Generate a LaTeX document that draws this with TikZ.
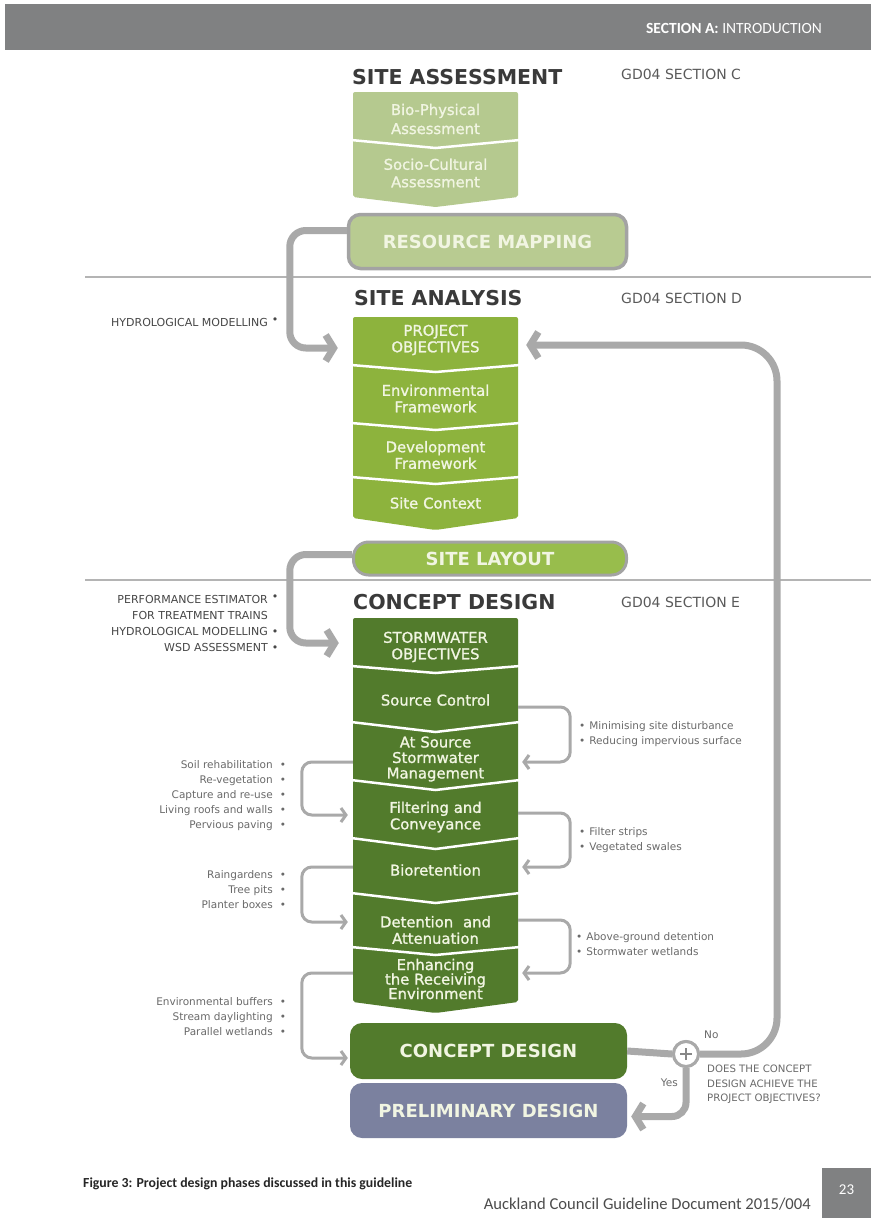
\documentclass[tikz,border=0pt]{standalone}
\usepackage{fontspec}
\setmainfont{DejaVu Sans}
\newfontfamily\colfont[FakeBold=1.2]{DejaVu Sans}
\newfontfamily\capfont{Carlito}
\usetikzlibrary{arrows.meta}
\definecolor{lgreen}{HTML}{B5C98F}
\definecolor{rmgreen}{HTML}{B8CB91}
\definecolor{mgreen}{HTML}{8DB33D}
\definecolor{slgreen}{HTML}{98BD4C}
\definecolor{dgreen}{HTML}{527B2C}
\definecolor{slate}{HTML}{7B819F}
\definecolor{conn}{HTML}{A9A9A9}
\definecolor{boxborder}{HTML}{A3A3A3}
\definecolor{headgray}{HTML}{3A3A3A}
\definecolor{gdgray}{HTML}{5A5A5A}
\definecolor{lblgray}{HTML}{6A6A6A}
\definecolor{toolgray}{HTML}{474747}
\definecolor{bargray}{HTML}{808182}
\definecolor{sepgray}{HTML}{B4B4B4}
\definecolor{boxtext}{HTML}{F1F5E2}
\newcommand\lbul{\rlap{\hspace{7pt}•}}
\newcommand\tbul{\rlap{\hspace{4pt}•}}
\newcommand\tbulr{\rlap{\hspace{4pt}\raisebox{3pt}{•}}}
\tikzset{
  coltext/.style={text width=160pt, inner xsep=2.5pt, inner ysep=0pt, align=center, text=boxtext, font=\colfont\fontsize{14.8}{16.5}\selectfont},
  heading/.style={anchor=west, text=headgray, inner sep=0pt, font=\bfseries\fontsize{20.5}{24}\selectfont},
  gdref/.style={anchor=west, text=gdgray, inner sep=0pt, font=\fontsize{14}{16}\selectfont},
  phasebox/.style={rounded corners=12pt, text=boxtext, inner sep=0pt, font=\bfseries\fontsize{18}{20}\selectfont},
  bigline/.style={draw=conn, line width=7pt, rounded corners=16pt},
  bigconn/.style={bigline, -{Straight Barb[length=8pt,width=26pt]}},
  smallconn/.style={draw=conn, line width=3pt, rounded corners=10pt, -{Straight Barb[length=5pt,width=14pt]}},
  leftlbl/.style={anchor=east, align=right, text=lblgray, inner sep=0pt, font=\fontsize{10.5}{15}\selectfont},
  rightlbl/.style={anchor=west, align=left, text=lblgray, inner sep=0pt, font=\fontsize{10.5}{15}\selectfont},
  toollbl/.style={anchor=east, align=right, text=toolgray, inner sep=0pt, font=\fontsize{11}{16}\selectfont},
  divider/.style={draw=white, line width=2.5pt},
}
\begin{document}
\begin{tikzpicture}[x=1pt,y=-1pt]
\useasboundingbox (0,0) rectangle (871,1218);
\fill[white] (0,0) rectangle (871,1218);
% header bar
\fill[bargray] (5,4) rectangle (871,50);
\node[anchor=east, text=white, inner sep=0pt, font=\capfont\fontsize{15.5}{17}\selectfont] (sect) at (822,28) {\textbf{SECTION A:} INTRODUCTION};
% separators
\draw[sepgray, line width=1.2pt] (85,277) -- (871,277);
\draw[sepgray, line width=1.2pt] (85,580) -- (871,580);
% headings
\node[heading] (hsa) at (352,77) {SITE ASSESSMENT};
\node[gdref] (gdc) at (621,74) {GD04 SECTION C};
\node[heading] (hsan) at (354,298) {SITE ANALYSIS};
\node[gdref] (gdd) at (621,298) {GD04 SECTION D};
\node[heading] (hcd) at (353,602) {CONCEPT DESIGN};
\node[gdref] (gde) at (621,602) {GD04 SECTION E};

% ---- column 1: site assessment
\fill[lgreen, rounded corners=2pt] (353,92) -- (518,92) -- (518,197) -- (435.5,207) -- (353,197) -- cycle;
\draw[divider] (351,140) -- (435.5,148) -- (520,140);
\node[coltext, font=\colfont\fontsize{14.8}{19}\selectfont] (bp) at (435.5,119) {Bio-Physical\\Assessment};
\node[coltext, font=\colfont\fontsize{14.8}{17.5}\selectfont] (sca) at (435.5,173) {Socio-Cultural\\Assessment};

% resource mapping
\node[phasebox, fill=rmgreen, draw=boxborder, line width=3.5pt, minimum width=278pt, minimum height=54pt] (rm) at (487.5,241.5) {RESOURCE MAPPING};

% ---- column 2: site analysis
\fill[mgreen, rounded corners=2pt] (353,317) -- (518,317) -- (518,518) -- (435.5,530) -- (353,518) -- cycle;
\draw[divider] (351,365) -- (435.5,372) -- (520,365);
\draw[divider] (351,423) -- (435.5,430) -- (520,423);
\draw[divider] (351,477) -- (435.5,484) -- (520,477);
\node[coltext] (po) at (435.5,340) {PROJECT\\OBJECTIVES};
\node[coltext] (ef) at (435.5,398.5) {Environmental\\Framework};
\node[coltext] (df) at (435.5,455) {Development\\Framework};
\node[coltext] (scx) at (435.5,503) {Site Context};

% site layout
\node[phasebox, rounded corners=15pt, fill=slgreen, draw=boxborder, line width=3pt, minimum width=273pt, minimum height=33pt] (sl) at (490,558.5) {SITE LAYOUT};

% ---- column 3: concept design
\fill[dgreen, rounded corners=2pt] (353,618) -- (518,618) -- (518,1002) -- (435.5,1013) -- (353,1002) -- cycle;
\draw[divider] (351,666) -- (435.5,673) -- (520,666);
\draw[divider] (351,722) -- (435.5,732) -- (520,722);
\draw[divider] (351,780) -- (435.5,790) -- (520,780);
\draw[divider] (351,838) -- (435.5,849) -- (520,838);
\draw[divider] (351,893) -- (435.5,903) -- (520,893);
\draw[divider] (351,947) -- (435.5,955) -- (520,947);
\node[coltext] (so) at (435.5,647) {STORMWATER\\OBJECTIVES};
\node[coltext] (sc) at (435.5,700) {Source Control};
\node[coltext, font=\colfont\fontsize{14.8}{15.5}\selectfont] (asm) at (435.5,759) {At Source\\Stormwater\\Management};
\node[coltext] (fc) at (435.5,817) {Filtering and\\Conveyance};
\node[coltext] (bio) at (435.5,870) {Bioretention};
\node[coltext] (da) at (435.5,930) {Detention\ \ and\\Attenuation};
\node[coltext, font=\colfont\fontsize{14.8}{14.5}\selectfont] (enh) at (435.5,979) {Enhancing\\the Receiving\\Environment};

% concept design and preliminary design boxes
\node[phasebox, fill=dgreen, minimum width=277pt, minimum height=56pt] (cdb) at (488.5,1051) {CONCEPT DESIGN};
\node[phasebox, fill=slate, minimum width=277pt, minimum height=55pt] (pd) at (488.5,1110.5) {PRELIMINARY DESIGN};

% decision point
\node[circle, draw=conn, line width=3pt, fill=white, minimum size=25pt, inner sep=0pt] (plus) at (686,1054) {};
\coordinate (loopc) at (777,345);

% ---- connectors
\draw[bigconn] ([yshift=11pt]rm.west) -| ([xshift=-63pt,yshift=-8pt]po.west) -- ([xshift=-15pt,yshift=-8pt]po.west);
\draw[bigconn] ([yshift=4pt]sl.west) -| ([xshift=-63pt,yshift=4pt]so.west) -- ([xshift=-14pt,yshift=4pt]so.west);
\draw[bigline] (cdb.east) -- (plus.west);
\draw[bigconn, rounded corners=36pt] (plus.east) -| (loopc) -- ([xshift=8pt,yshift=-5pt]po.east);
\draw[bigconn, rounded corners=14pt] (plus.south) |- ([xshift=4pt,yshift=-6pt]pd.east);
\node[circle, draw=conn, line width=3pt, fill=white, minimum size=25pt, inner sep=0pt] at (plus) {};
\draw[conn!80!black, line width=2.5pt] ([xshift=-6pt]plus.center) -- ([xshift=6pt]plus.center);
\draw[conn!80!black, line width=2.5pt] ([yshift=-6pt]plus.center) -- ([yshift=6pt]plus.center);

% right brackets
\draw[smallconn] ([yshift=-7pt]sc.east) -| ([xshift=52pt,yshift=-3pt]asm.east) -- ([xshift=4pt,yshift=-3pt]asm.east);
\draw[smallconn] ([yshift=4pt]fc.east) -| ([xshift=52pt,yshift=3pt]bio.east) -- ([xshift=4pt,yshift=3pt]bio.east);
\draw[smallconn] ([yshift=10pt]da.east) -| ([xshift=52pt,yshift=6pt]enh.east) -- ([xshift=4pt,yshift=6pt]enh.east);
% left brackets
\draw[smallconn] ([yshift=-3pt]asm.west) -| ([xshift=-51pt,yshift=2pt]fc.west) -- ([xshift=-5pt,yshift=2pt]fc.west);
\draw[smallconn] ([yshift=3pt]bio.west) -| ([xshift=-51pt,yshift=8pt]da.west) -- ([xshift=-5pt,yshift=8pt]da.west);
\draw[smallconn] ([yshift=6pt]enh.west) -| ([xshift=-48pt,yshift=-7pt]cdb.west) -- ([xshift=-2pt,yshift=-7pt]cdb.west);

% ---- labels
\node[toollbl] (hm) at (268,322) {HYDROLOGICAL MODELLING\tbulr};
\node[toollbl] (tools) at (268,623) {PERFORMANCE ESTIMATOR\tbulr\\FOR TREATMENT TRAINS\\HYDROLOGICAL MODELLING\tbul\\WSD ASSESSMENT\tbul};
\node[leftlbl] (lA) at (273,795.5) {Soil rehabilitation\lbul\\Re-vegetation\lbul\\Capture and re-use\lbul\\Living roofs and walls\lbul\\Pervious paving\lbul};
\node[leftlbl] (lB) at (273,890) {Raingardens\lbul\\Tree pits\lbul\\Planter boxes\lbul};
\node[leftlbl] (lC) at (273,1017) {Environmental buffers\lbul\\Stream daylighting\lbul\\Parallel wetlands\lbul};
\node[rightlbl] (rA) at (579,734.5) {•\hspace{4pt}Minimising site disturbance\\•\hspace{4pt}Reducing impervious surface};
\node[rightlbl] (rB) at (579,840) {•\hspace{4pt}Filter strips\\•\hspace{4pt}Vegetated swales};
\node[rightlbl] (rC) at (576,944.5) {•\hspace{4pt}Above-ground detention\\•\hspace{4pt}Stormwater wetlands};
\node[rightlbl] (no) at (704,1035) {No};
\node[leftlbl] (yes) at (678,1083) {Yes};
\node[rightlbl, font=\fontsize{10.2}{14.5}\selectfont] (q) at (707,1084.5) {DOES THE CONCEPT\\DESIGN ACHIEVE THE\\PROJECT OBJECTIVES?};

% ---- footer
\node[anchor=west, inner sep=0pt, text=black!85, font=\capfont\bfseries\fontsize{13.8}{16}\selectfont] (cap) at (83,1184) {Figure 3: Project design phases discussed in this guideline};
\node[anchor=east, inner sep=0pt, text=black!70, font=\capfont\fontsize{16.6}{19}\selectfont] (foot) at (811,1204) {Auckland Council Guideline Document 2015/004};
\fill[bargray] (822,1168) rectangle (871,1218);
\node[text=white, inner sep=0pt, font=\capfont\fontsize{15}{17}\selectfont] (pg) at (846.5,1190) {23};
\end{tikzpicture}
\end{document}
